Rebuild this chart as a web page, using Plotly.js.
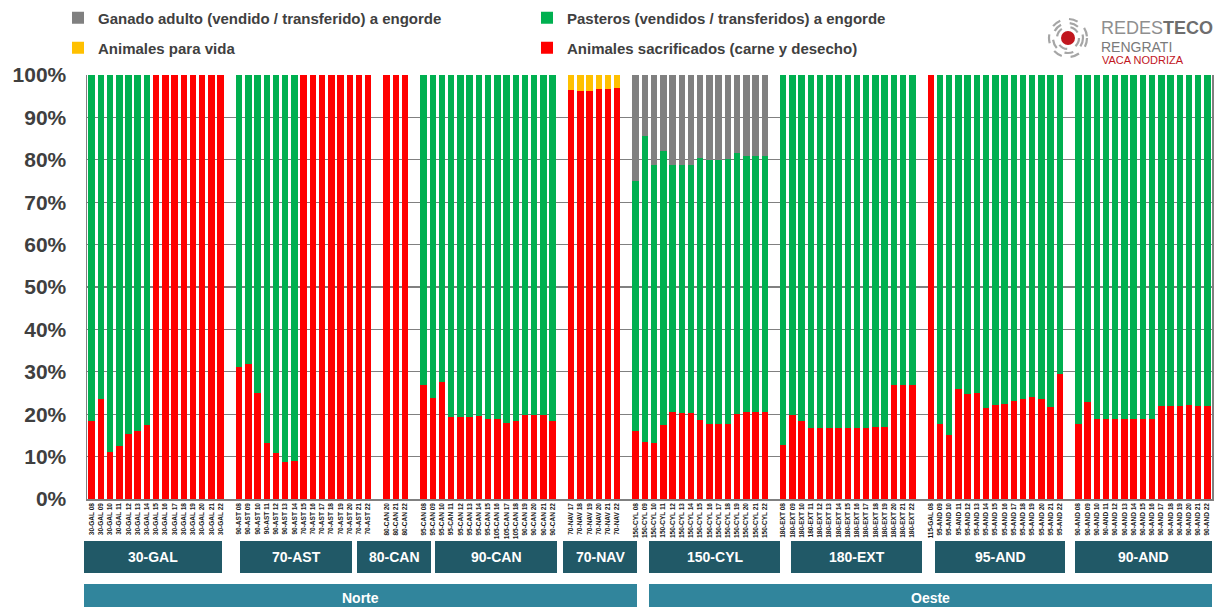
<!DOCTYPE html>
<html><head><meta charset="utf-8">
<script src="https://cdn.plot.ly/plotly-3.0.1.min.js"></script>
<style>html,body{margin:0;padding:0;background:#fff;}#chart{width:1222px;height:607px;}</style>
</head><body><div id="chart"></div>
<script>
// ---------- DATA (percent of animals) ----------
const labelsGAL30 = ["30-GAL 08","30-GAL 09","30-GAL 10","30-GAL 11","30-GAL 12","30-GAL 13","30-GAL 14","30-GAL 15","30-GAL 16","30-GAL 17","30-GAL 18","30-GAL 19","30-GAL 20","30-GAL 21","30-GAL 22"];
const redGAL30   = [18.5,23.5,11.2,12.5,15.4,16.0,17.5,100,100,100,100,100,100,100,100];
const greenGAL30 = [81.5,76.5,88.8,87.5,84.6,84.0,82.5,0,0,0,0,0,0,0,0];

const labelsAST70 = ["90-AST 08","90-AST 09","90-AST 10","90-AST 11","90-AST 12","90-AST 13","90-AST 14","70-AST 15","70-AST 16","70-AST 17","70-AST 18","70-AST 19","70-AST 20","70-AST 21","70-AST 22"];
const redAST70   = [31.1,31.8,25.0,13.2,10.9,8.8,9.0,100,100,100,100,100,100,100,100];
const greenAST70 = [68.9,68.2,75.0,86.8,89.1,91.2,91.0,0,0,0,0,0,0,0,0];

const labelsCAN80 = ["80-CAN 20","80-CAN 21","80-CAN 22"];
const redCAN80   = [100,100,100];

const labelsCAN90 = ["95-CAN 08","95-CAN 09","95-CAN 10","95-CAN 11","95-CAN 12","95-CAN 13","95-CAN 14","95-CAN 15","105-CAN 16","105-CAN 17","105-CAN 18","90-CAN 19","90-CAN 20","90-CAN 21","90-CAN 22"];
const redCAN90   = [26.8,23.9,27.7,19.4,19.4,19.4,19.6,18.9,18.9,18.0,18.5,19.8,19.8,19.8,18.4];
const greenCAN90 = [73.2,76.1,72.3,80.6,80.6,80.6,80.4,81.1,81.1,82.0,81.5,80.2,80.2,80.2,81.6];

const labelsNAV70 = ["70-NAV 17","70-NAV 18","70-NAV 19","70-NAV 20","70-NAV 21","70-NAV 22"];
const redNAV70    = [96.4,96.2,96.2,96.8,96.6,96.9];
const yellowNAV70 = [3.6,3.8,3.8,3.2,3.4,3.1];

const labelsCYL150 = ["150-CYL 08","150-CYL 09","150-CYL 10","150-CYL 11","150-CYL 12","150-CYL 13","150-CYL 14","150-CYL 15","150-CYL 16","150-CYL 17","150-CYL 18","150-CYL 19","150-CYL 20","150-CYL 21","150-CYL 22"];
const redCYL150   = [16.0,13.5,13.1,17.4,20.5,20.4,20.4,18.7,17.8,17.8,17.7,20.0,20.6,20.6,20.6];
const greenCYL150 = [59.0,72.2,65.6,64.6,58.2,58.3,58.3,61.8,62.1,62.1,62.5,61.5,60.4,60.4,60.4];
const grayCYL150  = [25.0,14.3,21.3,18.0,21.3,21.3,21.3,19.5,20.1,20.1,19.8,18.5,19.0,19.0,19.0];

const labelsEXT180 = ["180-EXT 08","180-EXT 09","180-EXT 10","180-EXT 11","180-EXT 12","180-EXT 13","180-EXT 14","180-EXT 15","180-EXT 16","180-EXT 17","180-EXT 18","180-EXT 19","180-EXT 20","180-EXT 21","180-EXT 22"];
const redEXT180   = [12.7,19.9,18.5,16.7,16.7,16.7,16.7,16.7,16.7,16.7,16.9,16.9,26.9,26.9,26.9];
const greenEXT180 = [87.3,80.1,81.5,83.3,83.3,83.3,83.3,83.3,83.3,83.3,83.1,83.1,73.1,73.1,73.1];

const labelsAND95 = ["115-GAL 08","95-AND 09","95-AND 10","95-AND 11","95-AND 12","95-AND 13","95-AND 14","95-AND 15","95-AND 16","95-AND 17","95-AND 18","95-AND 19","95-AND 20","95-AND 21","95-AND 22"];
const redAND95   = [100,17.6,15.1,25.9,24.7,25.1,21.4,22.1,22.3,23.2,23.5,24.1,23.6,21.6,29.4];
const greenAND95 = [0,82.4,84.9,74.1,75.3,74.9,78.6,77.9,77.7,76.8,76.5,75.9,76.4,78.4,70.6];

const labelsAND90 = ["90-AND 08","90-AND 09","90-AND 10","90-AND 11","90-AND 12","90-AND 13","90-AND 14","90-AND 15","90-AND 16","90-AND 17","90-AND 18","90-AND 19","90-AND 20","90-AND 21","90-AND 22"];
const redAND90   = [17.8,22.9,18.9,18.9,18.9,18.9,18.9,18.9,18.9,21.9,21.9,21.9,22.2,21.9,21.9];
const greenAND90 = [82.2,77.1,81.1,81.1,81.1,81.1,81.1,81.1,81.1,78.1,78.1,78.1,77.8,78.1,78.1];

const groupNames  = ["30-GAL","70-AST","80-CAN","90-CAN","70-NAV","150-CYL","180-EXT","95-AND","90-AND"];
const regionNames = ["Norte","Oeste"];
const seriesNames = ["Animales sacrificados (carne y desecho)","Pasteros (vendidos / transferidos) a engorde","Animales para vida","Ganado adulto (vendido / transferido) a engorde"];
const yTicks = [0,10,20,30,40,50,60,70,80,90,100];
const yTickText = ["0%","10%","20%","30%","40%","50%","60%","70%","80%","90%","100%"];

// ---------- BUILD ----------
const groups = [
  {labels: labelsGAL30, red: redGAL30, green: greenGAL30},
  {labels: labelsAST70, red: redAST70, green: greenAST70},
  {labels: labelsCAN80, red: redCAN80},
  {labels: labelsCAN90, red: redCAN90, green: greenCAN90},
  {labels: labelsNAV70, red: redNAV70, yellow: yellowNAV70},
  {labels: labelsCYL150, red: redCYL150, green: greenCYL150, gray: grayCYL150},
  {labels: labelsEXT180, red: redEXT180, green: greenEXT180},
  {labels: labelsAND95, red: redAND95, green: greenAND95},
  {labels: labelsAND90, red: redAND90, green: greenAND90}
];
const cats = [];
const series = {red: {x: [], y: []}, green: {x: [], y: []}, yellow: {x: [], y: []}, gray: {x: [], y: []}};
groups.forEach((g, gi) => {
  if (gi > 0) cats.push(" ".repeat(gi));
  g.labels.forEach((lab, i) => {
    cats.push(lab);
    ["red","green","yellow","gray"].forEach(k => {
      if (g[k]) { series[k].x.push(lab); series[k].y.push(g[k][i]); }
    });
  });
});

const colors = {red: "#FF0000", green: "#00B050", yellow: "#FFC000", gray: "#808080"};
const keys = ["red","green","yellow","gray"];
const legendIds = {gray: "legend", green: "legend2", yellow: "legend3", red: "legend4"};
const traces = keys.map((k, i) => ({
  type: "bar", name: seriesNames[i], x: series[k].x, y: series[k].y,
  marker: {color: colors[k], line: {width: 0}},
  legend: legendIds[k], hoverinfo: "x+y+name"
}));

// geometry helpers (plot area in pixels)
const L = 87, R = 1212, T = 75, B = 499;
const W = R - L, H = B - T;
const px = v => (v - L) / W;
const py = v => (B - v) / H;

const shapes = [];
const annotations = [];
const groupBoxes = [[84,222],[240,352],[357,431],[435,557],[563,637],[649,780],[791,922],[935,1065],[1075,1212]];
groupBoxes.forEach((b, i) => {
  shapes.push({type: "rect", xref: "paper", yref: "paper", x0: px(b[0]), x1: px(b[1]), y0: py(573), y1: py(541), fillcolor: "#215967", line: {width: 0}, layer: "above"});
  annotations.push({xref: "paper", yref: "paper", x: px((b[0]+b[1])/2), y: py(557), text: "<b>" + groupNames[i] + "</b>", showarrow: false, font: {family: "Liberation Sans, Arial", size: 14, color: "#ffffff"}, xanchor: "center", yanchor: "middle"});
});
const regionBoxes = [[84,637],[649,1212]];
regionBoxes.forEach((b, i) => {
  shapes.push({type: "rect", xref: "paper", yref: "paper", x0: px(b[0]), x1: px(b[1]), y0: py(615), y1: py(584), fillcolor: "#31859C", line: {width: 0}, layer: "above"});
  annotations.push({xref: "paper", yref: "paper", x: px((b[0]+b[1])/2), y: py(598), text: "<b>" + regionNames[i] + "</b>", showarrow: false, font: {family: "Liberation Sans, Arial", size: 14, color: "#ffffff"}, xanchor: "center", yanchor: "middle"});
});

// logo
const cx = px(1068), cy = py(38);
[19, 15, 11].forEach(r => {
  shapes.push({type: "circle", xref: "paper", yref: "paper", xsizemode: "pixel", ysizemode: "pixel", xanchor: cx, yanchor: cy, x0: -r, x1: r, y0: -r, y1: r, line: {color: "#a6a6a6", width: 2.2, dash: "dash"}, fillcolor: "rgba(0,0,0,0)"});
});
shapes.push({type: "circle", xref: "paper", yref: "paper", xsizemode: "pixel", ysizemode: "pixel", xanchor: cx, yanchor: cy, x0: -7, x1: 7, y0: -7, y1: 7, line: {width: 0}, fillcolor: "#C1161E"});
annotations.push({xref: "paper", yref: "paper", x: px(1099), y: py(28), xanchor: "left", yanchor: "middle", showarrow: false, text: "<span style='color:#8f8f8f'>REDES</span><b><span style='color:#6e6e6e'>TECO</span></b>", font: {family: "Liberation Sans, Arial", size: 18}});
annotations.push({xref: "paper", yref: "paper", x: px(1099), y: py(47), xanchor: "left", yanchor: "middle", showarrow: false, text: "RENGRATI", font: {family: "Liberation Sans, Arial", size: 14, color: "#7a7a7a"}});
annotations.push({xref: "paper", yref: "paper", x: px(1100), y: py(60), xanchor: "left", yanchor: "middle", showarrow: false, text: "VACA NODRIZA", font: {family: "Liberation Sans, Arial", size: 11, color: "#C1161E"}});

const legFont = {family: "Liberation Sans, Arial", size: 15, color: "#404040", weight: "bold"};
function leg(xpx, ypx) {
  return {xref: "container", yref: "container", x: xpx / 1222, y: 1 - ypx / 607, xanchor: "left", yanchor: "middle", orientation: "h", font: legFont, bgcolor: "rgba(0,0,0,0)", borderwidth: 0, itemclick: false, itemdoubleclick: false};
}

const layout = {
  width: 1222, height: 607,
  margin: {l: L, r: 1222 - R, t: T, b: 607 - B, pad: 0},
  paper_bgcolor: "#ffffff", plot_bgcolor: "#ffffff",
  barmode: "stack", bargap: 0.3,
  showlegend: true,
  legend: leg(58, 18), legend2: leg(527, 18), legend3: leg(58, 48), legend4: leg(527, 48),
  xaxis: {
    type: "category", categoryorder: "array", categoryarray: cats,
    tickmode: "array", tickvals: cats, ticktext: cats,
    tickangle: -90, tickfont: {family: "Liberation Sans, Arial", size: 6.5, color: "#1a1a1a", weight: "bold"},
    showgrid: false, showline: true, linecolor: "#808080", linewidth: 1.5, ticks: "",
    range: [-0.5, cats.length - 0.5], fixedrange: true
  },
  yaxis: {
    range: [0, 100], tickmode: "array", tickvals: yTicks, ticktext: yTickText,
    tickfont: {family: "Liberation Sans, Arial", size: 21, color: "#3f3f3f", weight: "bold"},
    showgrid: true, gridcolor: "#808080", gridwidth: 1.2,
    showline: true, linecolor: "#808080", linewidth: 1.5, mirror: true,
    zeroline: false, ticks: "", ticklabelstandoff: 15, fixedrange: true
  },
  shapes: shapes, annotations: annotations
};

Plotly.newPlot("chart", traces, layout, {displayModeBar: false, staticPlot: true});
</script></body></html>
